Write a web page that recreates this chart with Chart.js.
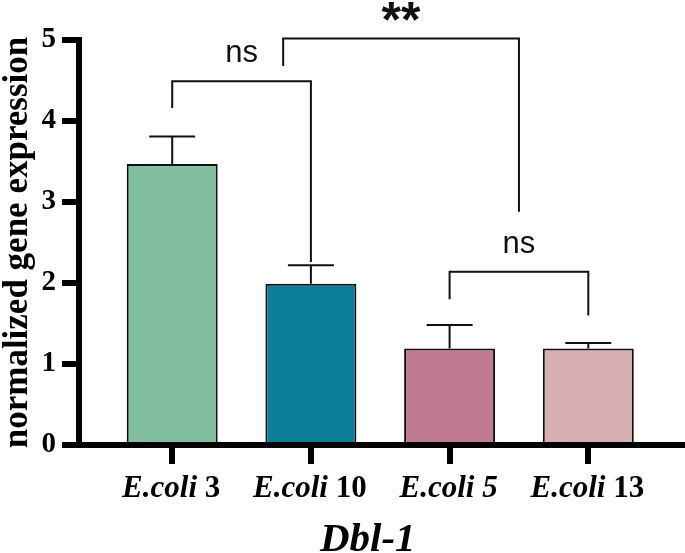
<!DOCTYPE html>
<html lang="en">
<head>
	<meta charset="UTF-8">
	<title>Dbl-1 expression</title>
	<script src="https://cdn.jsdelivr.net/npm/chart.js"></script>
	<style>
		body { margin: 0; background: #fff; }
	</style>
</head>
<body>
	<canvas id="myChart" width="685" height="553"></canvas>

	<script>
		// data
		const categories = ['E.coli 3', 'E.coli 10', 'E.coli 5', 'E.coli 13'];
		const means = [3.47, 1.99, 1.19, 1.19];
		const sd = [0.34, 0.23, 0.29, 0.07];
		const yTicks = [0, 1, 2, 3, 4, 5];

		// significance brackets (x in category index, y in axis units)
		const brFrom = [0, 0.8, 2];
		const brTo = [1, 2.5, 3];
		const brTop = [4.49, 5.02, 2.14];
		const brLeftEnd = [4.16, 4.68, 1.80];
		const brRightEnd = [2.26, 2.88, 1.60];
		const brText = ['ns', '**', 'ns'];

		const barColors = ['#82BFA0', '#0D7F9B', '#C07A90', '#D6B0B2'];

		const serif = '"Liberation Serif", "Times New Roman", serif';
		const sans = '"Liberation Sans", Arial, sans-serif';

		const extras = {
			id: 'extras',
			afterDatasetsDraw(chart) {
				const ctx = chart.ctx;
				const xs = chart.scales.x, ys = chart.scales.y;
				ctx.save();
				ctx.strokeStyle = '#111';
				ctx.lineWidth = 2;
				// error bars, upper half only
				for (let i = 0; i < means.length; i++) {
					const x = xs.getPixelForValue(i);
					const y0 = ys.getPixelForValue(means[i]);
					const y1 = ys.getPixelForValue(means[i] + sd[i]);
					ctx.beginPath();
					ctx.moveTo(x, y0);
					ctx.lineTo(x, y1);
					ctx.moveTo(x - 23, y1);
					ctx.lineTo(x + 23, y1);
					ctx.stroke();
				}
				ctx.restore();
			},
			afterDraw(chart) {
				const ctx = chart.ctx;
				const xs = chart.scales.x, ys = chart.scales.y;
				ctx.save();
				ctx.strokeStyle = '#111';
				ctx.lineWidth = 2;
				ctx.fillStyle = '#111';
				ctx.textAlign = 'center';
				ctx.textBaseline = 'alphabetic';
				for (let i = 0; i < brText.length; i++) {
					const xa = xs.getPixelForValue(brFrom[i]);
					const xb = xs.getPixelForValue(brTo[i]);
					const yt = ys.getPixelForValue(brTop[i]);
					ctx.beginPath();
					ctx.moveTo(xa, ys.getPixelForValue(brLeftEnd[i]));
					ctx.lineTo(xa, yt);
					ctx.lineTo(xb, yt);
					ctx.lineTo(xb, ys.getPixelForValue(brRightEnd[i]));
					ctx.stroke();
					if (brText[i] === '**') {
						ctx.font = 'bold 50px ' + sans;
						ctx.fillText(brText[i], (xa + xb) / 2, yt - 1);
					} else {
						ctx.font = '31px ' + sans;
						ctx.fillText(brText[i], (xa + xb) / 2, yt - 19);
					}
				}

				// x labels: species name italic, strain number upright
				ctx.fillStyle = '#000';
				ctx.textAlign = 'left';
				for (let i = 0; i < categories.length; i++) {
					const parts = categories[i].split(' ');
					const f1 = 'italic bold 31px ' + serif;
					const f2 = (parts[1] === '5' ? 'italic ' : '') + 'bold 31px ' + serif;
					ctx.font = f1;
					const w1 = ctx.measureText(parts[0]).width;
					ctx.font = f2;
					const w2 = ctx.measureText(' ' + parts[1]).width;
					let x = xs.getPixelForValue(i) - (w1 + w2) / 2 - 1;
					ctx.font = f1;
					ctx.fillText(parts[0], x, 497);
					ctx.font = f2;
					ctx.fillText(' ' + parts[1], x + w1, 497);
				}

				// x axis title
				ctx.textAlign = 'center';
				ctx.font = 'italic bold 41px ' + serif;
				ctx.fillText('Dbl-1', xs.getPixelForValue(1.41), 551);
				ctx.restore();
			}
		};

		myChart = document.getElementById('myChart');

		new Chart(myChart, {
			type: 'bar',
			data: {
				datasets: [{
					label: 'Dbl-1',
					data: means.map((v, i) => ({x: i, y: v})),
					backgroundColor: barColors,
					borderColor: '#111',
					borderWidth: 2,
					borderSkipped: 'bottom',
					categoryPercentage: 1,
					barPercentage: 0.656
				}]
			},
			options: {
				responsive: false,
				devicePixelRatio: 1,
				animation: false,
				layout: { padding: { top: 40, right: 1, left: 0, bottom: 0 } },
				plugins: {
					legend: { display: false },
					tooltip: { enabled: false }
				},
				scales: {
					x: {
						type: 'linear',
						min: -0.672,
						max: 3.69,
						offset: false,
						afterBuildTicks: s => { s.ticks = categories.map((c, i) => ({value: i})); },
						afterFit: s => { s.height = 108; },
						ticks: { display: false },
						grid: {
							offset: false,
							drawOnChartArea: false,
							drawTicks: true,
							tickLength: 19,
							lineWidth: 6,
							color: '#000'
						},
						border: { display: true, width: 6, color: '#000' }
					},
					y: {
						min: 0,
						max: 5,
						afterBuildTicks: s => { s.ticks = yTicks.map(v => ({value: v})); },
						afterFit: s => { s.width = 79; },
						ticks: {
							color: '#000',
							padding: 6,
							font: { family: serif, size: 29, weight: 'bold' }
						},
						grid: {
							drawOnChartArea: false,
							drawTicks: true,
							tickLength: 17,
							lineWidth: 6,
							color: '#000'
						},
						border: { display: true, width: 6, color: '#000' },
						title: {
							display: true,
							text: 'normalized gene expression',
							color: '#000',
							padding: 0,
							font: { family: serif, size: 35, weight: 'bold', lineHeight: 1 }
						}
					}
				}
			},
			plugins: [extras]
		});
	</script>
</body>
</html>
